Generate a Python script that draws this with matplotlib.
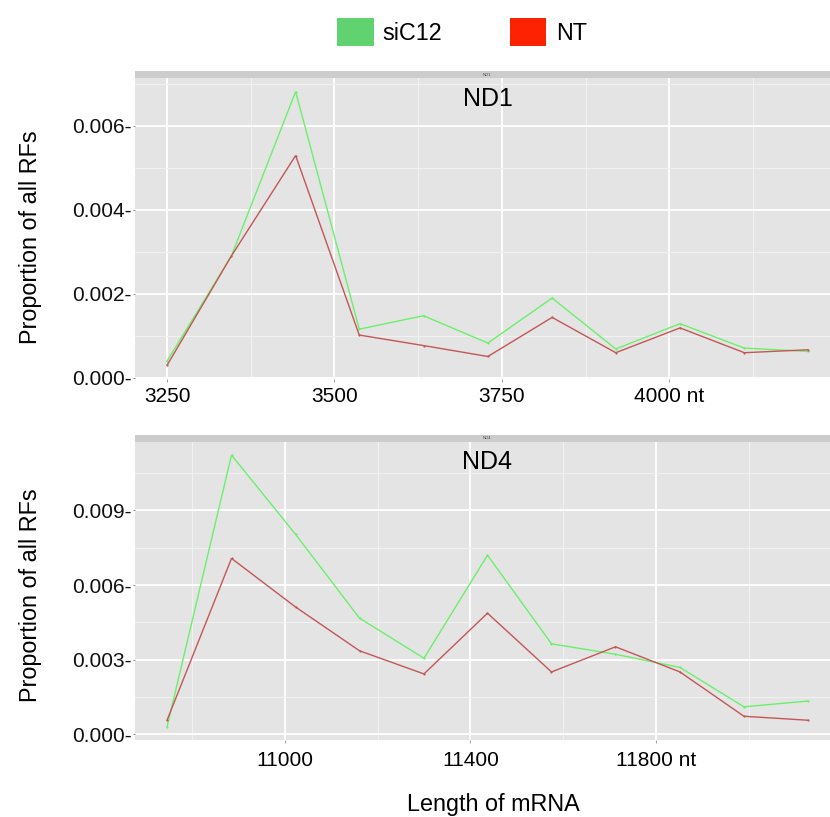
import matplotlib
matplotlib.use("Agg")
import matplotlib.pyplot as plt
from matplotlib.patches import Patch
from matplotlib.ticker import FixedLocator, FuncFormatter

plt.rcParams['font.family'] = ['Liberation Sans', 'DejaVu Sans']

# ---- data -------------------------------------------------------------
nd1_len = [3250, 3346, 3442, 3537, 3633, 3729, 3825, 3920, 4016, 4112, 4207]
nd1_sic12 = [0.00040, 0.00290, 0.00681, 0.00116, 0.00148, 0.00083,
             0.00190, 0.00069, 0.00129, 0.00071, 0.00063]
nd1_nt = [0.00030, 0.00290, 0.00529, 0.00102, 0.00077, 0.00051,
          0.00144, 0.00060, 0.00119, 0.00060, 0.00067]

nd4_len = [10746, 10885, 11023, 11161, 11300, 11437, 11575, 11713, 11852,
           11990, 12128]
nd4_sic12 = [0.00031, 0.01122, 0.00804, 0.00467, 0.00306, 0.00720,
             0.00364, 0.00322, 0.00269, 0.00111, 0.00134]
nd4_nt = [0.00057, 0.00707, 0.00512, 0.00336, 0.00243, 0.00487,
          0.00251, 0.00352, 0.00251, 0.00073, 0.00057]

nd1_xticks = [3250, 3500, 3750, 4000]
nd1_xlabels = ["3250", "3500", "3750", "4000 nt"]
nd1_xminor = [3375, 3625, 3875, 4125]
nd1_yticks = [0.000, 0.002, 0.004, 0.006]
nd1_yminor = [0.001, 0.003, 0.005, 0.007]

nd4_xticks = [11000, 11400, 11800]
nd4_xlabels = ["11000", "11400", "11800 nt"]
nd4_xminor = [10800, 11200, 11600, 12000]
nd4_yticks = [0.000, 0.003, 0.006, 0.009]
nd4_yminor = [0.0015, 0.0045, 0.0075, 0.0105]

series_names = ["siC12", "NT"]
line_colors = ["#6BF06B", "#C45656"]
key_colors = ["#60D26F", "#FF2200"]

# ---- figure layout ----------------------------------------------------
W, H = 830, 817
fig = plt.figure(figsize=(W / 100, H / 100), dpi=100)
fig.patch.set_facecolor("white")


def fx(px):
    return px / W


def fy(py):
    return 1 - py / H


PANEL_BG = "#E4E4E4"
STRIP_BG = "#CCCCCC"


def expand(vals, frac=0.05):
    lo, hi = min(vals), max(vals)
    pad = (hi - lo) * frac
    return lo - pad, hi + pad


def make_panel(top, bottom, strip_h, name, xs, ys_list, xticks, xlabels,
               xminor, yticks, yminor, title_off, xlabel_pad):
    left, right = 135, 840
    ax = fig.add_axes([fx(left), fy(bottom), fx(right - left),
                       (bottom - top) / H])
    ax.set_facecolor(PANEL_BG)
    for s in ax.spines.values():
        s.set_visible(False)

    for ys, col in zip(ys_list, line_colors):
        ax.plot(xs, ys, color=col, lw=1.0, marker='o', markersize=1.6,
                markeredgewidth=0, zorder=3, solid_joinstyle='miter')

    ax.set_xlim(*expand(xs))
    ax.set_ylim(*expand([v for ys in ys_list for v in ys]))

    ax.xaxis.set_major_locator(FixedLocator(xticks))
    ax.xaxis.set_minor_locator(FixedLocator(xminor))
    ax.yaxis.set_major_locator(FixedLocator(yticks))
    ax.yaxis.set_minor_locator(FixedLocator(yminor))
    ax.set_xticklabels(xlabels)
    ax.yaxis.set_major_formatter(FuncFormatter(lambda v, p: f"{v:.3f}-"))

    ax.grid(True, which='major', color='white', lw=1.3, zorder=0)
    ax.grid(True, which='minor', color='#F1F1F1', lw=0.8, zorder=0)
    ax.set_axisbelow(True)

    ax.tick_params(axis='x', which='major', length=2.5, width=0.7,
                   color='#A0A0A0', labelsize=15, pad=xlabel_pad,
                   labelcolor='black')
    ax.tick_params(axis='y', which='major', length=1.2, width=0.7,
                   color='#888888', labelsize=15, pad=1.5,
                   labelcolor='#111111')
    ax.tick_params(which='minor', length=0)

    ax.text(0.5, 1 - title_off / (bottom - top), name,
            transform=ax.transAxes, ha='center', va='center',
            fontsize=18, color='black', zorder=5)

    # facet strip above the panel
    sax = fig.add_axes([fx(left), fy(top), fx(right - left), strip_h / H])
    sax.set_facecolor(STRIP_BG)
    sax.set_xticks([])
    sax.set_yticks([])
    for s in sax.spines.values():
        s.set_visible(False)
    sax.text(fx(487 - left) / fx(right - left), 0.5, name,
             transform=sax.transAxes, ha='center', va='center',
             fontsize=3, color='#444444')
    return ax


ax1 = make_panel(78, 379, 7, "ND1", nd1_len, [nd1_sic12, nd1_nt],
                 nd1_xticks, nd1_xlabels, nd1_xminor, nd1_yticks,
                 nd1_yminor, 21, 3.5)
ax2 = make_panel(441.5, 740.3, 7, "ND4", nd4_len, [nd4_sic12, nd4_nt],
                 nd4_xticks, nd4_xlabels, nd4_xminor, nd4_yticks,
                 nd4_yminor, 20.5, 5.5)

# axis titles
fig.text(fx(31), fy(237.5), "Proportion of all RFs", rotation=90,
         ha='center', va='center', fontsize=16.8)
fig.text(fx(31), fy(595), "Proportion of all RFs", rotation=90,
         ha='center', va='center', fontsize=16.8)
fig.text(fx(493), fy(804), "Length of mRNA", ha='center', va='center',
         fontsize=16.8)

# legend
handles = [Patch(facecolor=c, edgecolor='none') for c in key_colors]
fig.legend(handles, series_names, loc='center',
           bbox_to_anchor=(fx(462), fy(32)), ncol=2, frameon=False,
           fontsize=16.8, handlelength=1.55, handleheight=1.42,
           handletextpad=0.40, columnspacing=2.9, borderpad=0)

fig.savefig("out.png", dpi=100)
